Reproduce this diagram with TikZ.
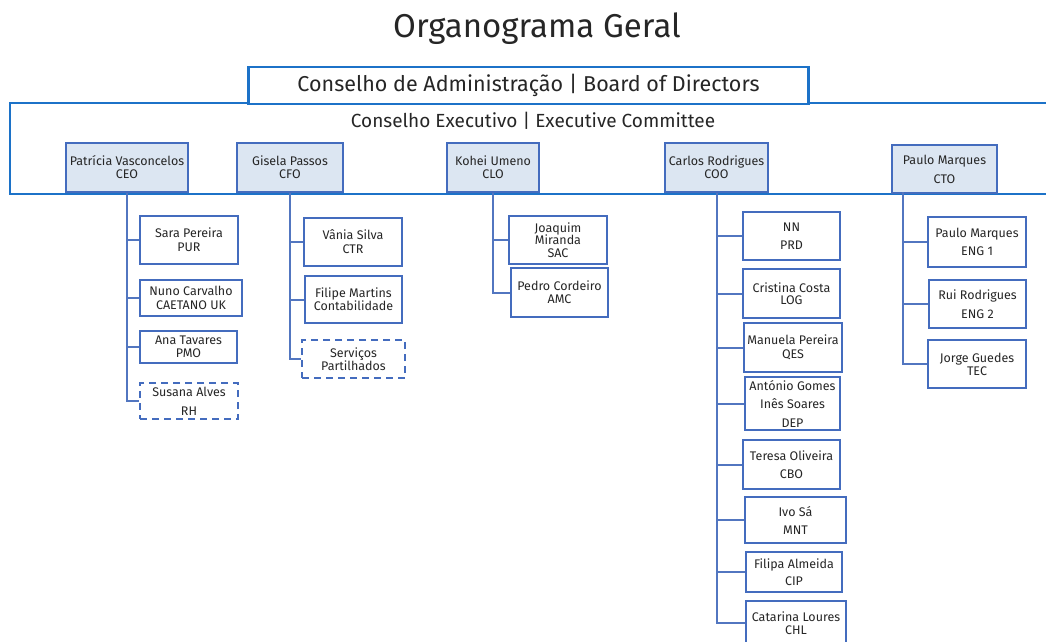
\documentclass[tikz,border=0pt]{standalone}
\usepackage{fontspec}
\setmainfont{Fira Sans}
\definecolor{FrameBlue}{RGB}{28,114,200}
\definecolor{BoxBlue}{RGB}{68,108,190}
\definecolor{LinkBlue}{RGB}{82,118,192}
\definecolor{HeadFill}{RGB}{220,230,242}
\definecolor{TextGray}{RGB}{38,38,38}
\tikzset{
  Frame/.style={draw=FrameBlue,line width=2.4pt,inner sep=0pt},
  Head/.style={draw=BoxBlue,fill=HeadFill,line width=2.3pt,align=center,inner sep=0pt},
  Unit/.style={draw=BoxBlue,fill=white,line width=2.8pt,align=center,inner sep=0pt},
  Shared/.style={Unit,dash pattern=on 7pt off 5pt},
  Conn/.style={draw=LinkBlue,line width=2pt}}

\begin{document}
\begin{tikzpicture}[x=1pt,y=-1pt,every node/.style={text=TextGray}]
  \useasboundingbox (0,0) rectangle (1046,641);
  \node (title) at (537,29) {\fontsize{33}{36}\selectfont Organograma Geral};
  \node[Frame,minimum width=1050pt,minimum height=91pt] (exec) at (535,148.5) {};
  \node (execlbl) at (533,121) {\fontsize{19}{22}\selectfont Conselho Executivo | Executive Committee};
  \node[Frame,fill=white,minimum width=560pt,minimum height=37pt] (board) at (528.5,85.5)
    {\fontsize{21.5}{24}\selectfont Conselho de Administração | Board of Directors};
  \foreach \n/\x/\y/\w/\h/\ls/\txt in {
      ceo/127/167.5/122/49/13/Patrícia Vasconcelos\\CEO,
      cfo/290/167.5/106/49/13/Gisela Passos\\CFO,
      clo/493/167.5/92/49/13/Kohei Umeno\\CLO,
      coo/716.5/167.5/103/49/13/Carlos Rodrigues\\COO,
      cto/944.5/169/105/48/19/Paulo Marques\\CTO}
    \node[Head,minimum width=\w pt,minimum height=\h pt,font=\fontsize{12.5}{\ls}\selectfont] (\n) at (\x,\y) {\txt};
  \coordinate (ctostem) at (903,192);
  \foreach \p/\n/\s/\x/\y/\w/\h/\ls/\txt in {
      ceo/sara/Unit/189/240/98/48/14/Sara Pereira\\PUR,
      ceo/nuno/Unit/191/298/102/36/14/Nuno Carvalho\\CAETANO UK,
      ceo/ana/Unit/188.5/347/97/32/13/Ana Tavares\\PMO,
      ceo/susana/Shared/189/401/98/36/19/Susana Alves\\RH,
      cfo/vania/Unit/353/242/98/48/14/Vânia Silva\\CTR,
      cfo/filipe/Unit/353.5/299.5/97/47/13/Filipe Martins\\Contabilidade,
      cfo/servicos/Shared/353.5/359/103/38/13/Serviços\\Partilhados,
      clo/joaquim/Unit/558/240/98/48/12.5/Joaquim\\Miranda\\SAC,
      clo/pedro/Unit/559.5/292.5/97/49/13/Pedro Cordeiro\\AMC,
      coo/nn/Unit/791.5/236/97/48/18/NN\\PRD,
      coo/cristina/Unit/791.5/293.5/97/49/12.5/Cristina Costa\\LOG,
      coo/manuela/Unit/793/347.5/98/49/14/Manuela Pereira\\QES,
      coo/antonio/Unit/792.5/403.5/95/53/18.5/António Gomes\\Inês Soares\\DEP,
      coo/teresa/Unit/791.5/464.5/97/49/18/Teresa Oliveira\\CBO,
      coo/ivo/Unit/795.5/520/101/46/18/Ivo Sá\\MNT,
      coo/filipa/Unit/794/572/96/40/17/Filipa Almeida\\CIP,
      coo/catarina/Unit/796/623/100/44/12.5/Catarina Loures\\CHL,
      ctostem/eng1/Unit/977/242/98/50/18/Paulo Marques\\ENG 1,
      ctostem/eng2/Unit/977.5/304/97/48/19/Rui Rodrigues\\ENG 2,
      ctostem/tec/Unit/977/364/98/48/13/Jorge Guedes\\TEC}{
    \node[\s,minimum width=\w pt,minimum height=\h pt,font=\fontsize{12.5}{\ls}\selectfont] (\n) at (\x,\y) {\txt};
    \draw[Conn] (\p.south) |- (\n.west);}
\end{tikzpicture}
\end{document}
